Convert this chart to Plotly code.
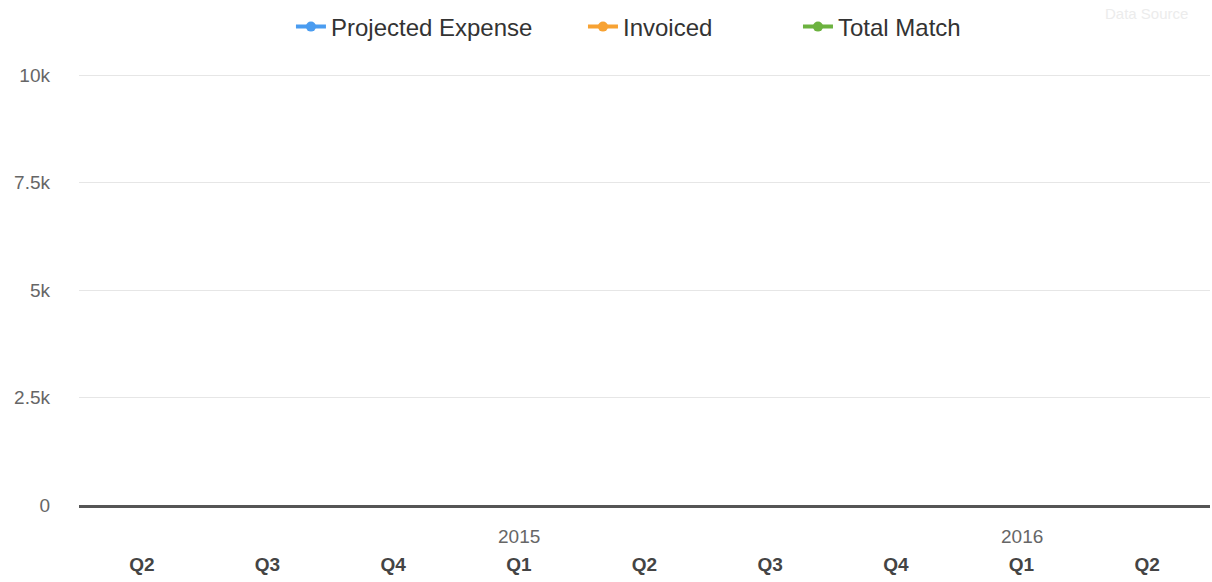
import plotly.graph_objects as go

# Quarterly categories (Q2 2014 through Q2 2016)
quarters = ["Q2", "Q3", "Q4", "Q1", "Q2", "Q3", "Q4", "Q1", "Q2"]
years = [2014, 2014, 2014, 2015, 2015, 2015, 2015, 2016, 2016]
categories = [f"{y} {q}" for y, q in zip(years, quarters)]

# Series values: no amounts recorded for any quarter
projected_expense = [None] * len(categories)
invoiced = [None] * len(categories)
total_match = [None] * len(categories)

y_ticks = [0, 2500, 5000, 7500, 10000]
y_tick_labels = ["0", "2.5k", "5k", "7.5k", "10k"]

FONT = "Liberation Sans, Arial, sans-serif"

# name, values, colour, legend id, legend left edge (paper x)
series = [
    ("Projected Expense", projected_expense, "#4a9cf0", "legend", 0.1874),
    ("Invoiced", invoiced, "#f7a233", "legend2", 0.4456),
    ("Total Match", total_match, "#6cb23f", "legend3", 0.6357),
]

fig = go.Figure()
legends = {}
for name, values, color, leg, lx in series:
    fig.add_trace(go.Scatter(
        x=categories, y=values, name=name, mode="lines+markers",
        line=dict(color=color, width=4),
        marker=dict(color=color, size=10),
        legend=leg,
    ))
    legends[leg] = dict(
        orientation="h", xref="paper", x=lx, xanchor="left",
        yref="paper", y=1.109, yanchor="middle",
        font=dict(family=FONT, size=24, color="#333333"),
        bgcolor="rgba(0,0,0,0)", itemwidth=30,
    )

# Year labels above the first quarter of each new year
annotations = []
for i, (y, q) in enumerate(zip(years, quarters)):
    if q == "Q1":
        annotations.append(dict(
            x=categories[i], xref="x", y=0, yref="paper", yshift=-31,
            text=str(y), showarrow=False, yanchor="middle",
            font=dict(family=FONT, size=19, color="#666666"),
        ))

annotations.append(dict(
    x=0.982, xref="paper", y=1.14, yref="paper",
    text="Data Source", showarrow=False, xanchor="right", yanchor="middle",
    font=dict(family=FONT, size=15, color="#ececec"),
))

fig.update_layout(
    width=1212, height=582,
    margin=dict(l=79, r=2, t=74, b=77, autoexpand=False),
    paper_bgcolor="white", plot_bgcolor="white",
    font=dict(family=FONT, color="#333333"),
    showlegend=True,
    legend=legends["legend"],
    legend2=legends["legend2"],
    legend3=legends["legend3"],
    xaxis=dict(
        type="category", categoryorder="array", categoryarray=categories,
        range=[-0.5, len(categories) - 0.5],
        tickvals=categories,
        ticktext=[f"<b>{q}</b>" for q in quarters],
        tickfont=dict(family=FONT, size=19, color="#444444"),
        ticklabelstandoff=40,
        showgrid=False, zeroline=False,
        showline=True, linecolor="#555555", linewidth=3,
        layer="above traces",
    ),
    yaxis=dict(
        range=[0, 10025], tickvals=y_ticks, ticktext=y_tick_labels,
        tickfont=dict(family=FONT, size=19, color="#666666"),
        ticklabelstandoff=28,
        showgrid=True, gridcolor="#e6e6e6", gridwidth=1,
        zeroline=False, showline=False,
    ),
    annotations=annotations,
)

fig.write_html("out.html")
